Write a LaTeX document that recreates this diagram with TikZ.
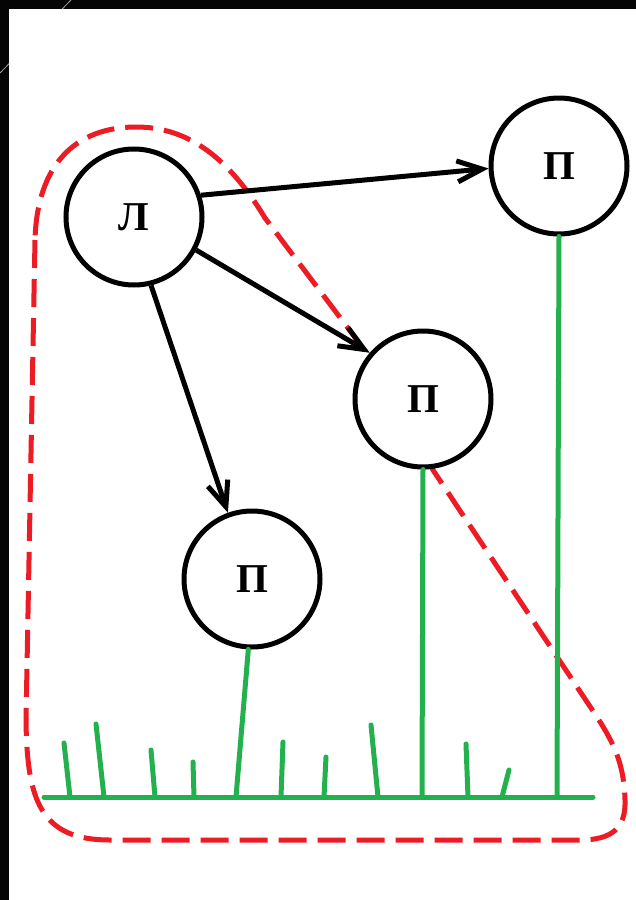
\documentclass[tikz,border=0pt]{standalone}
\usepackage{fontspec}
\setmainfont{Liberation Serif}
\usetikzlibrary{arrows.meta}
\definecolor{grass}{HTML}{22B14C}
\definecolor{loopred}{HTML}{ED1C24}
\definecolor{frame}{HTML}{050505}

\begin{document}
\begin{tikzpicture}[x=1pt,y=-1pt,
  vertex/.style={circle, draw=black, line width=5pt, fill=white,
    minimum size=136pt, inner sep=0pt,
    font=\fontsize{41}{41}\selectfont\bfseries},
  link/.style={line width=5pt, -{Straight Barb[length=25pt,width=21pt]}},
  stem/.style={grass, line width=5pt, line cap=round}]
\useasboundingbox (0,0) rectangle (636,900);
\fill[frame] (0,0) rectangle (636,900);
\draw[gray!70, line width=0.8pt] (0,73) -- (71,0);
\fill[white] (9,9) rectangle (636,900);

% dashed loop around the left part
\draw[loopred, line width=5pt, dash pattern=on 28pt off 11pt]
  (35,240) -- (26,720) .. controls (27,800) and (40,840) .. (110,840)
  -- (580,840) .. controls (612,840) and (626,828) .. (625,800)
  .. controls (624,765) and (615,745) .. (597,717)
  -- (433,470) -- (357,340) -- (265,218)
  .. controls (230,160) and (190,127) .. (136,127)
  .. controls (75,127) and (37,165) .. (35,240) -- cycle;

\node[vertex] (L) at (134,217) {Л};
\node[vertex] (P1) at (559,166) {П};
\node[vertex] (P2) at (423,399) {П};
\node[vertex] (P3) at (252,579) {П};

\draw[link] (L.18) -- (P1.182);
\draw[link] (L.-28) -- (P2.139);
\draw[link] (L.-76) -- (P3.110);

% ground and grass
\coordinate (g1) at (557,797);
\coordinate (g2) at (422,797);
\coordinate (g3) at (236,797);
\draw[stem] (44,797) -- (593,797);
\foreach \bx/\tx/\ty in {70/64/743, 104/96/724, 155/151/750, 194/193/762,
    281/283/742, 324/326/757, 378/371/725, 468/466/744, 502/509/770}
  \draw[stem] (\bx,797) -- (\tx,\ty);
\draw[stem] (g1) -- (P1.south);
\draw[stem] (g2) -- (P2.south);
\draw[stem] (g3) -- (P3.-93);
\end{tikzpicture}
\end{document}
